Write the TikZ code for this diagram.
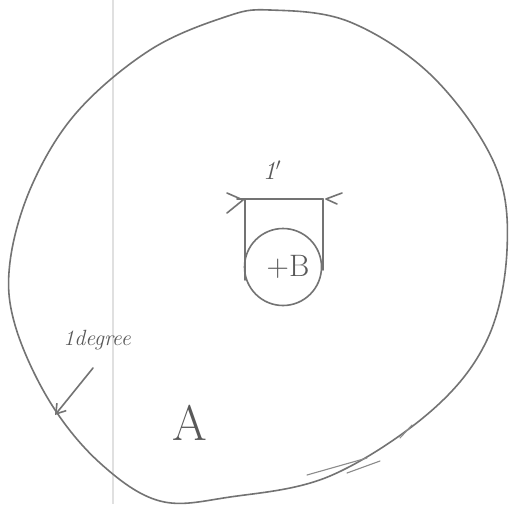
\documentclass[tikz,border=0pt]{standalone}
\usetikzlibrary{arrows.meta}
\begin{document}
\begin{tikzpicture}[x=1pt,y=-1pt,
  pen/.style={draw=black!55,line width=1.6pt,line cap=round,line join=round},
  thinpen/.style={draw=black!45,line width=1.1pt,line cap=round},
  lbl/.style={text=black!65,inner sep=0pt}]
\useasboundingbox (0,0) rectangle (509,504);
\fill[white] (0,0) rectangle (509,504);
% faint paper margin line
\draw[black!12,line width=1.2pt] (113,0) -- (113,504);
% outer region A
\draw[pen] plot[smooth cycle,tension=0.6] coordinates {
 (270,10) (350,22) (433,77) (495,165) (507,250) (487,340) (430,412)
 (330,476) (230,497) (160,501) (100,463) (50,402) (15,325) (10,262)
 (32,185) (77,112) (150,50) (225,17)};
% sketch over-strokes at bottom right
\draw[thinpen] (307,475) -- (367,458);
\draw[thinpen] (347,473) -- (380,461);
\draw[thinpen] (412,425) -- (400,438);
% inner circle B
\node[pen,circle,minimum size=77pt,inner sep=0pt] (Bc) at (283,267) {};
\node[lbl,font=\fontsize{31}{33}\selectfont] (B) at (288,267) {+B};
% dimension bracket
\coordinate (tl) at (245,199);
\coordinate (tr) at (323,199);
\draw[pen] (237,199) -- (tr);
\draw[pen] (tl) -- (245,280);
\draw[pen] (tr) -- (323,270);
\draw[pen] (227,193) -- (243,200) -- (227,213);
\draw[pen] (342,193) -- (326,199) -- (337,204);
\node[lbl,font=\itshape\fontsize{26}{28}\selectfont] (one) at (272,170) {1$'$};
% 1degree label and arrow
\node[lbl,font=\itshape\fontsize{22}{24}\selectfont] (deg) at (97,340) {1degree};
\coordinate (degtip) at (55,415);
\draw[pen,-{Straight Barb[length=9pt,width=12pt]}] (93,368) -- (degtip);
% label A
\node[lbl,font=\fontsize{50}{52}\selectfont] (A) at (190,423) {A};
\end{tikzpicture}
\end{document}
